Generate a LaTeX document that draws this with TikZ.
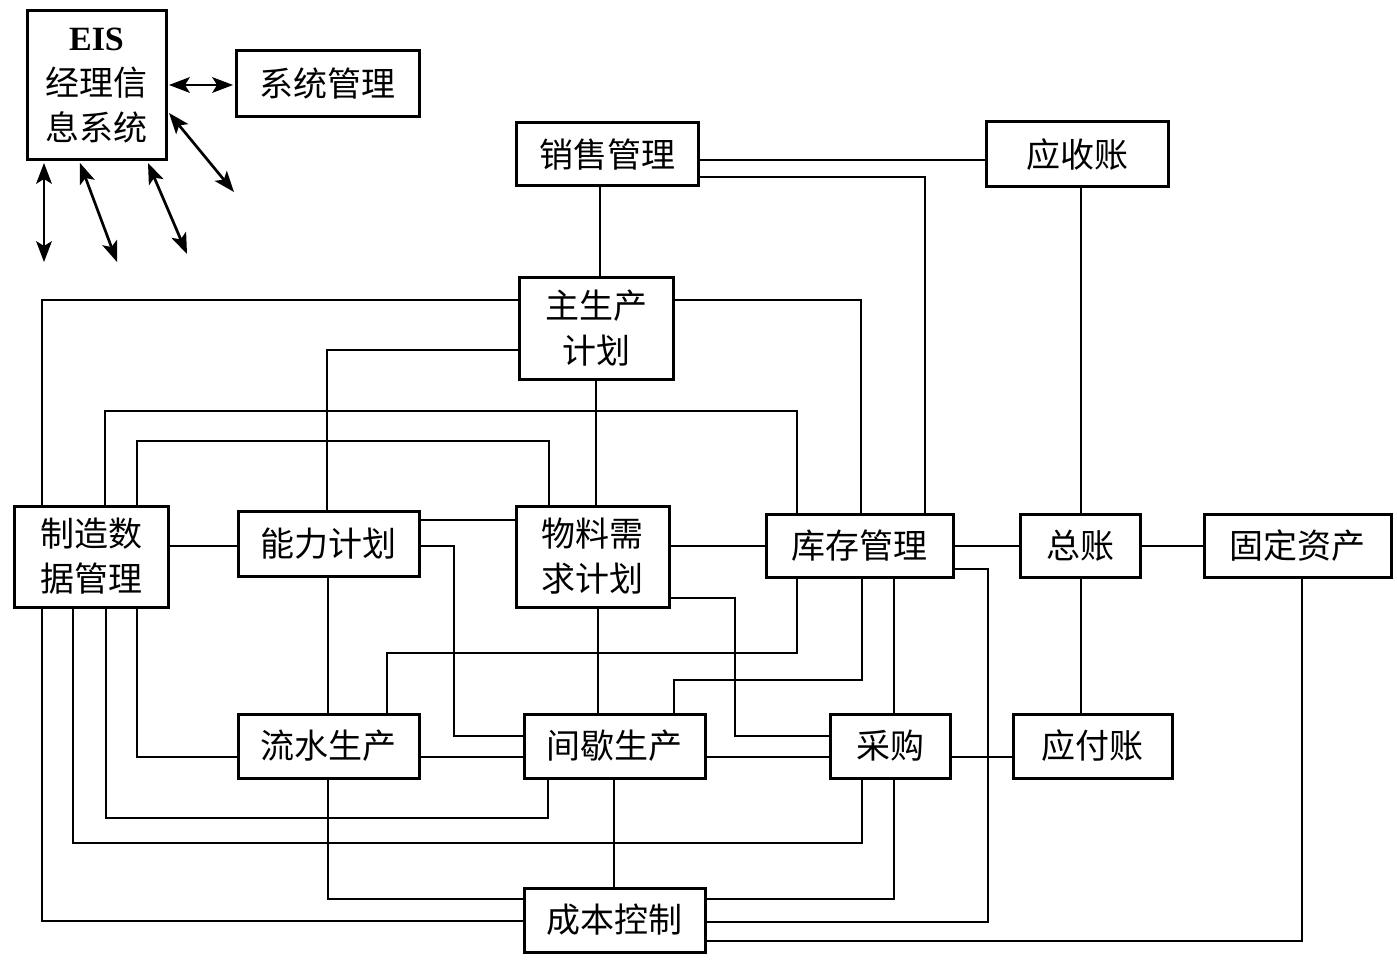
\documentclass[tikz,border=0pt]{standalone}
\usepackage{fontspec}
\newfontfamily\cjk{Noto Sans CJK SC}
\newfontfamily\eisfont{Liberation Serif}
\usetikzlibrary{calc}
% filled arrowhead with its tip at #1, pointing away from #2
\newcommand\myarrowhead[2]{%
  \fill ($(#1)$) -- ($($(#1)!21pt!(#2)$)!8pt!90:(#1)$) -- ($(#1)!16pt!(#2)$)
    -- ($($(#1)!21pt!(#2)$)!8pt!-90:(#1)$) -- cycle;}
\newcommand\mybiarrow[2]{%
  \draw[line width=2.7pt] ($(#1)!12pt!(#2)$) -- ($(#2)!12pt!(#1)$);
  \myarrowhead{#1}{#2}\myarrowhead{#2}{#1}}
\begin{document}
\begin{tikzpicture}[x=1pt,y=-1pt,
  box/.style={draw, line width=3pt, inner sep=0pt, align=center,
    font=\cjk\fontsize{34}{45}\selectfont},
  link/.style={line width=2.7pt}
]
\useasboundingbox[fill=white] (0,0) rectangle (1397,960);

% nodes
\node[box, minimum width=139pt, minimum height=149pt] (eis) at (96.5,85.5)
  {{\eisfont\bfseries EIS}\\经理信\\息系统};
\node[box, minimum width=183pt, minimum height=66pt] (xtgl) at (327.5,84) {系统管理};
\node[box, minimum width=182pt, minimum height=63pt] (xsgl) at (607,154.5) {销售管理};
\node[box, minimum width=182pt, minimum height=65pt] (ysz) at (1077,154.5) {应收账};
\node[box, minimum width=154pt, minimum height=102pt] (zsc) at (596,328) {主生产\\计划};
\node[box, minimum width=154pt, minimum height=101pt] (zzsj) at (91,556.5) {制造数\\据管理};
\node[box, minimum width=181pt, minimum height=65pt] (nljh) at (328.5,543.5) {能力计划};
\node[box, minimum width=153pt, minimum height=101pt] (wlxq) at (592.5,556.5) {物料需\\求计划};
\node[box, minimum width=187pt, minimum height=63pt] (kcgl) at (859.5,545.5) {库存管理};
\node[box, minimum width=120pt, minimum height=63pt] (zz) at (1080,545.5) {总账};
\node[box, minimum width=187pt, minimum height=63pt] (gdzc) at (1297.5,545.5) {固定资产};
\node[box, minimum width=181pt, minimum height=64pt] (lssc) at (328.5,746) {流水生产};
\node[box, minimum width=181pt, minimum height=64pt] (jxsc) at (614.5,746) {间歇生产};
\node[box, minimum width=120pt, minimum height=64pt] (cg) at (890,746) {采购};
\node[box, minimum width=159pt, minimum height=64pt] (yfz) at (1092.5,746) {应付账};
\node[box, minimum width=181pt, minimum height=64pt] (cbkz) at (614.5,920) {成本控制};

% EIS arrows
\coordinate (s0) at ([xshift=1.5pt]eis.east |- 0,85);
\coordinate (t0) at ([xshift=-1.5pt]xtgl.west |- 0,85);
\coordinate (s1) at ([xshift=1.5pt]eis.east |- 0,113);
\coordinate (a1) at (234,192);
\coordinate (s2) at ([yshift=-1.5pt]44,0 |- eis.south);
\coordinate (a2) at (44,262);
\coordinate (s3) at ([yshift=-1.5pt]80,0 |- eis.south);
\coordinate (a3) at (117,262);
\coordinate (s4) at ([yshift=-1.5pt]148,0 |- eis.south);
\coordinate (a4) at (187,254);
\mybiarrow{s0}{t0}
\mybiarrow{s1}{a1}
\mybiarrow{s2}{a2}
\mybiarrow{s3}{a3}
\mybiarrow{s4}{a4}

% connectors
\draw[link] (xsgl.east |- 0,160) -- (ysz.west |- 0,160);
\draw[link] (xsgl.east |- 0,177) -- (925,177) -- (925,0 |- kcgl.north);
\draw[link] (600,0 |- xsgl.south) -- (600,0 |- zsc.north);
\draw[link] (zsc.west |- 0,300) -- (42,300) -- (42,0 |- zzsj.north);
\draw[link] (zsc.east |- 0,300) -- (861,300) -- (861,0 |- kcgl.north);
\draw[link] (zsc.west |- 0,350) -- (327,350) -- (327,0 |- nljh.north);
\draw[link] (596,0 |- zsc.south) -- (596,0 |- wlxq.north);
\draw[link] (105,0 |- zzsj.north) -- (105,411) -- (797,411) -- (797,0 |- kcgl.north);
\draw[link] (137,0 |- zzsj.north) -- (137,441) -- (549,441) -- (549,0 |- wlxq.north);
\draw[link] (zzsj.east |- 0,546) -- (nljh.west |- 0,546);
\draw[link] (nljh.east |- 0,520) -- (wlxq.west |- 0,520);
\draw[link] (nljh.east |- 0,546) -- (454,546) -- (454,736) -- (jxsc.west |- 0,736);
\draw[link] (328,0 |- nljh.south) -- (328,0 |- lssc.north);
\draw[link] (wlxq.east |- 0,546) -- (kcgl.west |- 0,546);
\draw[link] (wlxq.east |- 0,598) -- (735,598) -- (735,736) -- (cg.west |- 0,736);
\draw[link] (598,0 |- wlxq.south) -- (598,0 |- jxsc.north);
\draw[link] (kcgl.east |- 0,546) -- (zz.west |- 0,546);
\draw[link] (zz.east |- 0,546) -- (gdzc.west |- 0,546);
\draw[link] (1081,0 |- ysz.south) -- (1081,0 |- zz.north);
\draw[link] (1081,0 |- zz.south) -- (1081,0 |- yfz.north);
\draw[link] (kcgl.east |- 0,569) -- (988,569) -- (988,922) -- (cbkz.east |- 0,922);
\draw[link] (797,0 |- kcgl.south) -- (797,653) -- (387,653) -- (387,0 |- lssc.north);
\draw[link] (862,0 |- kcgl.south) -- (862,680) -- (674,680) -- (674,0 |- jxsc.north);
\draw[link] (894,0 |- kcgl.south) -- (894,0 |- cg.north);
\draw[link] (cg.east |- 0,757) -- (yfz.west |- 0,757);
\draw[link] (lssc.east |- 0,757) -- (jxsc.west |- 0,757);
\draw[link] (jxsc.east |- 0,757) -- (cg.west |- 0,757);
\draw[link] (137,0 |- zzsj.south) -- (137,757) -- (lssc.west |- 0,757);
\draw[link] (106,0 |- zzsj.south) -- (106,818) -- (548,818) -- (548,0 |- jxsc.south);
\draw[link] (73,0 |- zzsj.south) -- (73,843) -- (862,843) -- (862,0 |- cg.south);
\draw[link] (42,0 |- zzsj.south) -- (42,921) -- (cbkz.west |- 0,921);
\draw[link] (328,0 |- lssc.south) -- (328,899) -- (cbkz.west |- 0,899);
\draw[link] (614,0 |- jxsc.south) -- (614,0 |- cbkz.north);
\draw[link] (894,0 |- cg.south) -- (894,899) -- (cbkz.east |- 0,899);
\draw[link] (1302,0 |- gdzc.south) -- (1302,941) -- (cbkz.east |- 0,941);
\end{tikzpicture}
\end{document}
